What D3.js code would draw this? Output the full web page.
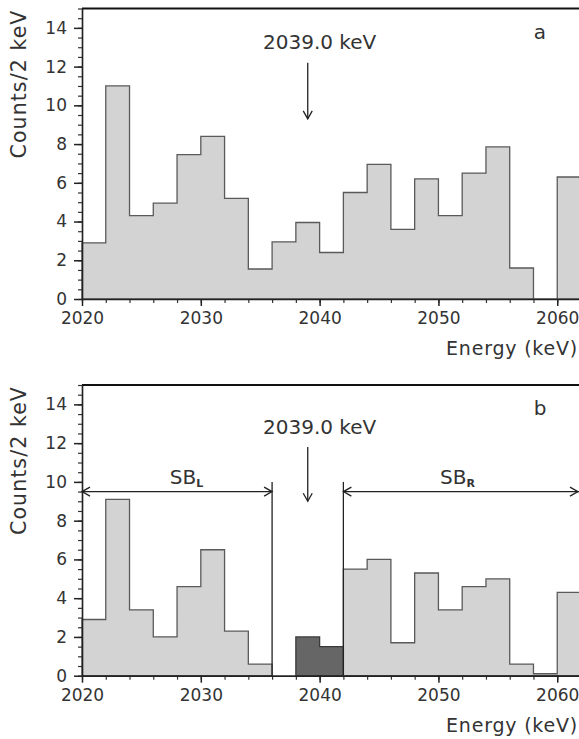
<!DOCTYPE html>
<html>
<head>
<meta charset="utf-8">
<script src="https://cdn.jsdelivr.net/npm/d3@7"></script>
<style>
  body { margin: 0; background: #fff; }
  svg { display: block; font-family: "DejaVu Sans", sans-serif; }
</style>
</head>
<body>
<div id="chart"></div>
<script>
// bin lower edges (2 keV bins)
const binStarts = [2020, 2022, 2024, 2026, 2028, 2030, 2032, 2034, 2036, 2038, 2040,
                   2042, 2044, 2046, 2048, 2050, 2052, 2054, 2056, 2058, 2060];
const binWidth = 2;

// panel a: full spectrum
const countsA = [2.9, 11.0, 4.3, 4.95, 7.45, 8.4, 5.2, 1.55, 2.95, 3.95, 2.4,
                 5.5, 6.95, 3.6, 6.2, 4.3, 6.5, 7.85, 1.6, 0, 6.3];
// panel b: side bands (null = not in side band)
const sidebandB = [2.9, 9.1, 3.4, 2.0, 4.6, 6.5, 2.3, 0.6, null, null, null,
                   5.5, 6.0, 1.7, 5.3, 3.4, 4.6, 5.0, 0.6, 0.1, 4.3];
// panel b: signal window
const signalB = [null, null, null, null, null, null, null, null, null, 2.0, 1.5,
                 null, null, null, null, null, null, null, null, null, null];

const xTicks = [2020, 2030, 2040, 2050, 2060];
const yTicks = [0, 2, 4, 6, 8, 10, 12, 14];
const peakLabel = "2039.0 keV";
const peakEnergy = 2039.0;

const W = 579, H = 739;
const margin = { left: 82, right: 581 };
const panels = [
  { top: 8.5, base: 299, letter: "a", counts: countsA, arrow: [12.2, 9.3], labelY: 12.9, sb: false },
  { top: 385, base: 675.7, letter: "b", counts: sidebandB, signal: signalB, arrow: [11.8, 9.0], labelY: 12.45, sb: true }
];

const x = d3.scaleLinear().domain([2020, 2062]).range([margin.left, margin.right]);

const svg = d3.select("#chart").append("svg").attr("width", W).attr("height", H);

// build a step outline from runs of non-null bins
function stepRuns(values) {
  const runs = [];
  let cur = null;
  values.forEach((v, i) => {
    if (v == null) { if (cur) { runs.push(cur); cur = null; } return; }
    if (!cur) cur = [];
    cur.push([binStarts[i], v]);
  });
  if (cur) runs.push(cur);
  return runs;
}

function drawHist(g, y, values, fill, stroke) {
  stepRuns(values).forEach(run => {
    const pts = [[run[0][0], 0]];
    run.forEach(([s, v]) => { pts.push([s, v]); pts.push([s + binWidth, v]); });
    pts.push([run[run.length - 1][0] + binWidth, 0]);
    const line = d3.line().x(d => x(d[0])).y(d => y(d[1]));
    g.append("path").attr("d", line(pts) + "Z")
      .attr("fill", fill).attr("stroke", stroke).attr("stroke-width", 1.3)
      .attr("stroke-linejoin", "miter");
  });
}

function arrowHead(g, px, py, dir, col) {
  // open chevron; dir = 'down' | 'left' | 'right'
  const s = 8, w = 4.5;
  let p;
  if (dir === "down") p = [[px - w, py - s], [px, py], [px + w, py - s]];
  if (dir === "left") p = [[px + s, py - w], [px, py], [px + s, py + w]];
  if (dir === "right") p = [[px - s, py - w], [px, py], [px - s, py + w]];
  g.append("path").attr("d", d3.line()(p)).attr("fill", "none")
    .attr("stroke", col).attr("stroke-width", 1.3);
}

panels.forEach(p => {
  const y = d3.scaleLinear().domain([0, 15]).range([p.base, p.top]);
  const g = svg.append("g");

  drawHist(g, y, p.counts, "#d3d3d3", "#5a5a5a");
  if (p.signal) drawHist(g, y, p.signal, "#666666", "#3a3a3a");

  // frame: top border
  g.append("line").attr("x1", x(2020)).attr("x2", x(2062)).attr("y1", y(15)).attr("y2", y(15))
    .attr("stroke", "#111").attr("stroke-width", 2);

  // y axis
  const yMinor = d3.range(0, 15.01, 0.5);
  g.append("g").attr("transform", `translate(${x(2020)},0)`)
    .call(d3.axisLeft(y).tickValues(yMinor).tickSize(4).tickSizeOuter(0).tickFormat(""))
    .call(a => a.selectAll("line,path").attr("stroke", "#333").attr("stroke-width", 1.2));
  g.append("g").attr("transform", `translate(${x(2020)},0)`)
    .call(d3.axisLeft(y).tickValues(yTicks).tickSize(8).tickPadding(7).tickSizeOuter(0))
    .call(a => a.selectAll("line,path").attr("stroke", "#222").attr("stroke-width", 1.5))
    .call(a => a.selectAll("text").attr("font-size", 17).attr("fill", "#333")
      .attr("font-family", "DejaVu Sans, sans-serif"));

  // x axis
  const xMinor = binStarts.concat([2062]);
  g.append("g").attr("transform", `translate(0,${y(0)})`)
    .call(d3.axisBottom(x).tickValues(xMinor).tickSize(4).tickSizeOuter(0).tickFormat(""))
    .call(a => a.selectAll("line,path").attr("stroke", "#333").attr("stroke-width", 1.2));
  g.append("g").attr("transform", `translate(0,${y(0)})`)
    .call(d3.axisBottom(x).tickValues(xTicks).tickSize(7).tickPadding(6).tickSizeOuter(0).tickFormat(d3.format("d")))
    .call(a => a.selectAll("line,path").attr("stroke", "#222").attr("stroke-width", 1.5))
    .call(a => a.selectAll("text").attr("font-size", 17).attr("fill", "#333")
      .attr("font-family", "DejaVu Sans, sans-serif"));

  // axis titles
  g.append("text").attr("transform", `translate(26,${p.top + 1}) rotate(-90)`)
    .attr("text-anchor", "end").attr("font-size", 20.5).attr("letter-spacing", 1.1)
    .attr("fill", "#333").text("Counts/2 keV");
  g.append("text").attr("x", 578).attr("y", y(0) + 56)
    .attr("text-anchor", "end").attr("font-size", 19).attr("letter-spacing", 0.8)
    .attr("fill", "#333").text("Energy (keV)");

  // panel letter
  g.append("text").attr("x", 540).attr("y", p.top + 30).attr("text-anchor", "middle")
    .attr("font-size", 20).attr("fill", "#333").text(p.letter);

  // peak marker
  g.append("text").attr("x", x(2040)).attr("y", y(p.labelY)).attr("text-anchor", "middle")
    .attr("font-size", 20).attr("fill", "#333").text(peakLabel);
  g.append("line").attr("x1", x(peakEnergy)).attr("x2", x(peakEnergy))
    .attr("y1", y(p.arrow[0])).attr("y2", y(p.arrow[1]))
    .attr("stroke", "#222").attr("stroke-width", 1.3);
  arrowHead(g, x(peakEnergy), y(p.arrow[1]), "down", "#222");

  if (p.sb) {
    const bands = [
      { from: 2020, to: 2036, wall: 2036, label: "L", lx: 2028.8 },
      { from: 2042, to: 2062, wall: 2042, label: "R", lx: 2051.6 }
    ];
    bands.forEach(b => {
      g.append("line").attr("x1", x(b.wall)).attr("x2", x(b.wall))
        .attr("y1", y(0)).attr("y2", y(10)).attr("stroke", "#222").attr("stroke-width", 1.3);
      g.append("line").attr("x1", x(b.from)).attr("x2", x(b.to))
        .attr("y1", y(9.5)).attr("y2", y(9.5)).attr("stroke", "#222").attr("stroke-width", 1.3);
      arrowHead(g, x(b.from), y(9.5), "left", "#222");
      arrowHead(g, Math.min(x(b.to), 578), y(9.5), "right", "#222");
      const t = g.append("text").attr("x", x(b.lx)).attr("y", y(9.9))
        .attr("text-anchor", "middle").attr("font-size", 20).attr("fill", "#333");
      t.append("tspan").text("SB");
      t.append("tspan").attr("font-size", 11).attr("font-weight", "bold").attr("dy", 3).text(b.label);
    });
  }
});
</script>
</body>
</html>
